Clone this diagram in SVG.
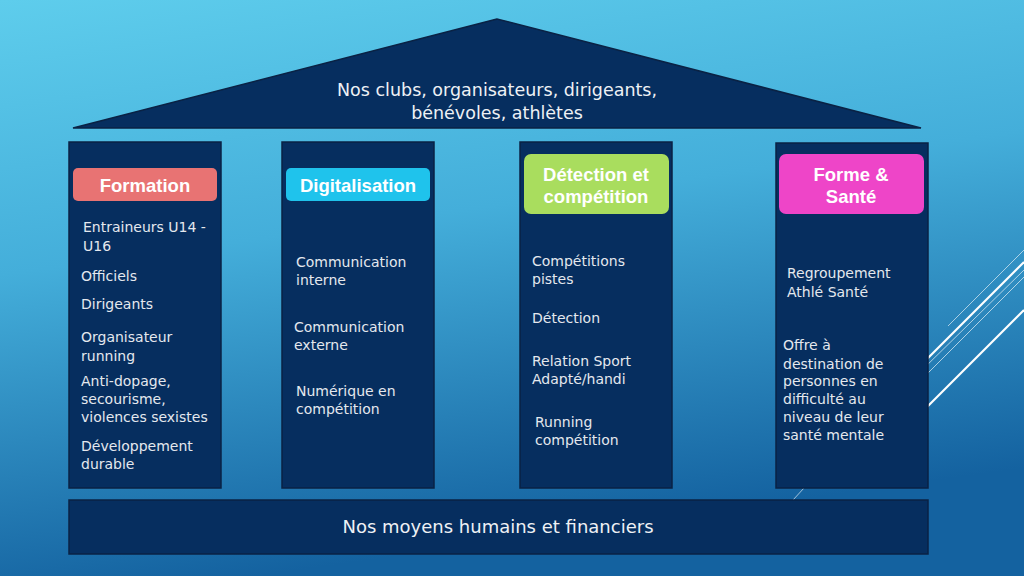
<svg xmlns="http://www.w3.org/2000/svg" width="1024" height="576" viewBox="0 0 1024 576">
  <defs>
    <linearGradient id="bg" x1="0" y1="0" x2="0.25" y2="1">
      <stop offset="0" stop-color="#5ECDEC"/>
      <stop offset="0.45" stop-color="#44AEDA"/>
      <stop offset="1" stop-color="#1462A0"/>
    </linearGradient>
  </defs>
  <style>
    .pillar { fill: #062E5F; stroke: #0A2244; stroke-width: 1.5; }
    .body { font-family: "DejaVu Sans", "Liberation Sans", sans-serif; font-size: 14px; fill: #E4E8EE; }
    .big { font-family: "DejaVu Sans", "Liberation Sans", sans-serif; font-size: 17.5px; fill: #EEF1F5; text-anchor: middle; }
    .head { font-family: "Liberation Sans", Arial, sans-serif; font-weight: bold; font-size: 18.5px; fill: #FFFFFF; text-anchor: middle; }
    .deco { stroke: #FFFFFF; fill: none; }
  </style>

  <rect x="0" y="0" width="1024" height="576" fill="url(#bg)"/>

  <g id="decoration">
    <line class="deco" x1="948" y1="326" x2="1024" y2="250" stroke-width="1" opacity="0.6"/>
    <line class="deco" x1="920" y1="366" x2="1024" y2="262" stroke-width="2.2"/>
    <line class="deco" x1="920" y1="372" x2="1024" y2="270" stroke-width="0.9" opacity="0.7"/>
    <line class="deco" x1="920" y1="381" x2="1024" y2="277" stroke-width="0.9" opacity="0.7"/>
    <line class="deco" x1="920" y1="414" x2="1024" y2="310" stroke-width="2.2"/>
    <line class="deco" x1="793" y1="500" x2="804" y2="488" stroke-width="1" opacity="0.6"/>
  </g>

  <g id="roof">
    <polygon points="497,19 73,128 921,128" fill="#062E5F" stroke="#0A2244" stroke-width="1.5"/>
    <text class="big" x="497" y="96">Nos clubs, organisateurs, dirigeants,</text>
    <text class="big" x="497" y="119">bénévoles, athlètes</text>
  </g>

  <g id="pillar-formation">
    <rect class="pillar" x="69" y="142" width="152" height="346"/>
    <rect x="73" y="168" width="144" height="33" rx="5" fill="#E87373"/>
    <text class="head" x="145" y="192">Formation</text>
    <text class="body" x="83" y="232">Entraineurs U14 -</text>
    <text class="body" x="83" y="251">U16</text>
    <text class="body" x="81" y="281">Officiels</text>
    <text class="body" x="81" y="309">Dirigeants</text>
    <text class="body" x="81" y="342">Organisateur</text>
    <text class="body" x="81" y="361">running</text>
    <text class="body" x="81" y="386">Anti-dopage,</text>
    <text class="body" x="81" y="404">secourisme,</text>
    <text class="body" x="81" y="422">violences sexistes</text>
    <text class="body" x="81" y="451">Développement</text>
    <text class="body" x="81" y="469">durable</text>
  </g>

  <g id="pillar-digitalisation">
    <rect class="pillar" x="282" y="142" width="152" height="346"/>
    <rect x="286" y="168" width="144" height="33" rx="5" fill="#1FC3EC"/>
    <text class="head" x="358" y="192">Digitalisation</text>
    <text class="body" x="296" y="267">Communication</text>
    <text class="body" x="296" y="285">interne</text>
    <text class="body" x="294" y="332">Communication</text>
    <text class="body" x="294" y="350">externe</text>
    <text class="body" x="296" y="396">Numérique en</text>
    <text class="body" x="296" y="414">compétition</text>
  </g>

  <g id="pillar-detection">
    <rect class="pillar" x="520" y="142" width="152" height="346"/>
    <rect x="524" y="154" width="145" height="60" rx="7" fill="#A9DD5E"/>
    <text class="head" x="596" y="181">Détection et</text>
    <text class="head" x="596" y="203">compétition</text>
    <text class="body" x="532" y="266">Compétitions</text>
    <text class="body" x="532" y="284">pistes</text>
    <text class="body" x="532" y="323">Détection</text>
    <text class="body" x="532" y="366">Relation Sport</text>
    <text class="body" x="532" y="384">Adapté/handi</text>
    <text class="body" x="535" y="427">Running</text>
    <text class="body" x="535" y="445">compétition</text>
  </g>

  <g id="pillar-forme-sante">
    <rect class="pillar" x="776" y="143" width="152" height="345"/>
    <rect x="779" y="154" width="145" height="60" rx="7" fill="#EE45C8"/>
    <text class="head" x="851" y="181">Forme &amp;</text>
    <text class="head" x="851" y="203">Santé</text>
    <text class="body" x="787" y="278">Regroupement</text>
    <text class="body" x="787" y="297">Athlé Santé</text>
    <text class="body" x="783" y="350">Offre à</text>
    <text class="body" x="783" y="369">destination de</text>
    <text class="body" x="783" y="386">personnes en</text>
    <text class="body" x="783" y="404">difficulté au</text>
    <text class="body" x="783" y="422">niveau de leur</text>
    <text class="body" x="783" y="440">santé mentale</text>
  </g>

  <g id="foundation">
    <rect class="pillar" x="69" y="500" width="859" height="54"/>
    <text class="big" x="498" y="533" style="font-size:18px">Nos moyens humains et financiers</text>
  </g>
</svg>
